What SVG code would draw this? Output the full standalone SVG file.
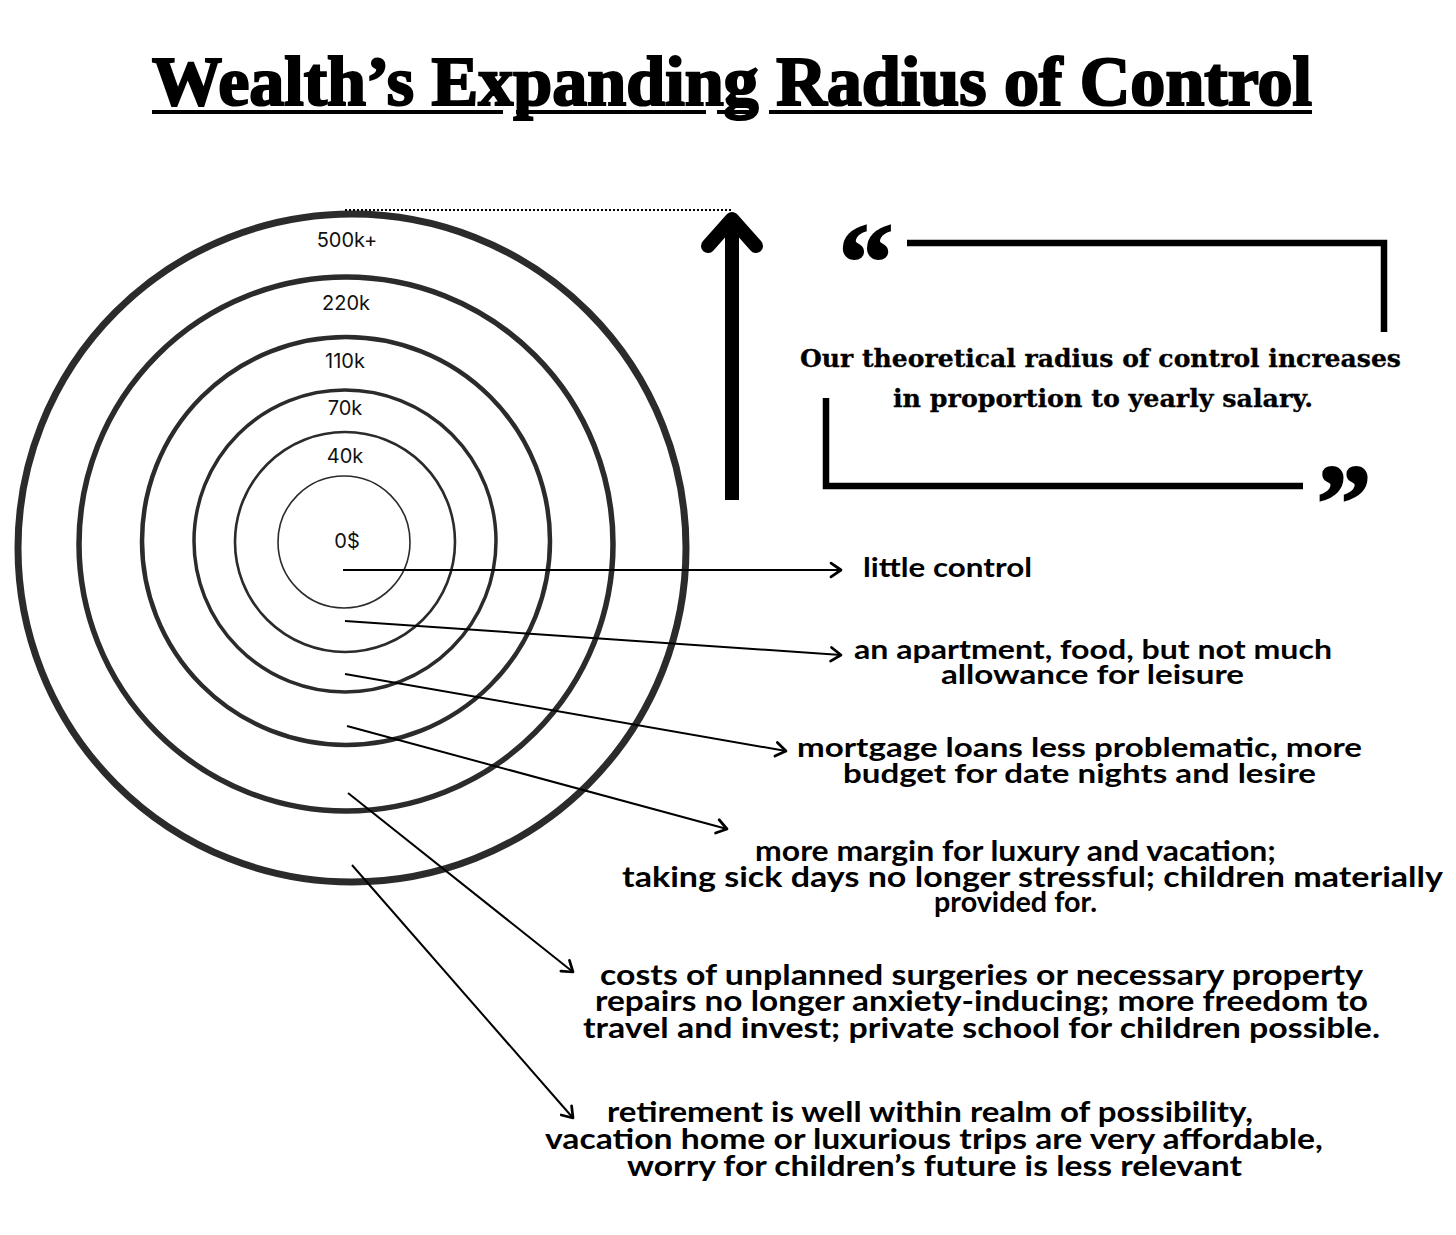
<svg xmlns="http://www.w3.org/2000/svg" width="1456" height="1235" viewBox="0 0 1456 1235">
  <style>
    .title { font-family: "Liberation Serif", "Times New Roman", serif; font-weight: bold; font-size: 70px; fill: #000; stroke: #000; stroke-width: 2.2; }
    .ring { fill: none; stroke: #2b2b2b; }
    .rlabel { font-family: "Inter", "Noto Sans", sans-serif; font-size: 20px; fill: #111; text-anchor: middle; }
    .quote { font-family: "DejaVu Serif", "Liberation Serif", serif; font-weight: bold; font-size: 24px; fill: #000; stroke: #000; stroke-width: 0.3; }
    .qmark { font-family: "Liberation Serif", serif; font-weight: bold; font-size: 110px; fill: #000; stroke: #000; stroke-width: 2; text-anchor: middle; }
    .bar { stroke: #000; stroke-width: 6.5; fill: none; }
    .lbl { font-family: "Lato", "Noto Sans", sans-serif; font-weight: bold; font-size: 27px; fill: #000; }
    .lbl2 { font-family: "Lato", "Noto Sans", sans-serif; font-weight: bold; font-size: 28px; fill: #000; }
    .conn { stroke: #000; stroke-width: 2; fill: none; marker-end: url(#arr); }
  </style>
  <defs>
    <marker id="arr" markerUnits="userSpaceOnUse" markerWidth="20" markerHeight="20" viewBox="-12 -8 14 16" refX="0" refY="0" orient="auto">
      <path d="M-8,-5.5 L0,0 L-8,5.5" fill="none" stroke="#000" stroke-width="2.2" stroke-linecap="round" stroke-linejoin="round"/>
    </marker>
  </defs>
  <rect width="1456" height="1235" fill="#fff"/>

  <g id="title">
    <text class="title" x="152" y="105" textLength="1160" lengthAdjust="spacingAndGlyphs">Wealth’s Expanding Radius of Control</text>
    <g stroke="#000" stroke-width="4">
      <line x1="152" y1="112" x2="503" y2="112"/>
      <line x1="516" y1="112" x2="706" y2="112"/>
      <line x1="717" y1="112" x2="757" y2="112"/>
      <line x1="769" y1="112" x2="1312" y2="112"/>
    </g>
  </g>

  <g id="rings">
    <g id="ring-500k">
      <circle class="ring" cx="352" cy="548" r="334" stroke-width="7"/>
      <text class="rlabel" x="347" y="247">500k+</text>
    </g>
    <g id="ring-220k">
      <circle class="ring" cx="346" cy="544" r="267" stroke-width="5.5"/>
      <text class="rlabel" x="346" y="310">220k</text>
    </g>
    <g id="ring-110k">
      <circle class="ring" cx="346" cy="541" r="204" stroke-width="4.5"/>
      <text class="rlabel" x="345" y="368">110k</text>
    </g>
    <g id="ring-70k">
      <circle class="ring" cx="345" cy="541" r="151" stroke-width="3.5"/>
      <text class="rlabel" x="345" y="415">70k</text>
    </g>
    <g id="ring-40k">
      <circle class="ring" cx="345" cy="542" r="110" stroke-width="2.6"/>
      <text class="rlabel" x="345" y="463">40k</text>
    </g>
    <g id="ring-0">
      <circle class="ring" cx="344" cy="542" r="66" stroke-width="1.6" stroke="#111"/>
      <text class="rlabel" x="347" y="548">0$</text>
    </g>
  </g>

  <g id="growth-arrow">
    <line x1="345" y1="210" x2="732" y2="210" stroke="#000" stroke-width="2" stroke-dasharray="2 2"/>
    <line x1="732" y1="500" x2="732" y2="222" stroke="#000" stroke-width="14"/>
    <polyline points="708,246 732,219 756,246" fill="none" stroke="#000" stroke-width="14" stroke-linecap="round" stroke-linejoin="round"/>
  </g>

  <g id="quote">
    <text class="qmark" x="866" y="299">“</text>
    <polyline class="bar" points="907,243 1384,243 1384,332"/>
    <text class="quote" x="800" y="367" textLength="601" lengthAdjust="spacingAndGlyphs">Our theoretical radius of control increases</text>
    <text class="quote" x="893" y="407" textLength="420" lengthAdjust="spacingAndGlyphs">in proportion to yearly salary.</text>
    <polyline class="bar" points="826,398 826,486 1303,486"/>
    <text class="qmark" x="1344" y="540">”</text>
  </g>

  <g id="connectors">
    <line class="conn" x1="343" y1="570" x2="841" y2="570"/>
    <line class="conn" x1="345" y1="621" x2="841" y2="655"/>
    <line class="conn" x1="345" y1="674" x2="786" y2="751"/>
    <line class="conn" x1="347" y1="726" x2="727" y2="829"/>
    <line class="conn" x1="348" y1="793" x2="573" y2="972"/>
    <line class="conn" x1="352" y1="865" x2="573" y2="1118"/>
  </g>

  <g id="label-0">
    <text class="lbl" x="863" y="577" textLength="169" lengthAdjust="spacingAndGlyphs">little control</text>
  </g>
  <g id="label-40k">
    <text class="lbl" x="854" y="659" textLength="478" lengthAdjust="spacingAndGlyphs">an apartment, food, but not much</text>
    <text class="lbl" x="941" y="684" textLength="303" lengthAdjust="spacingAndGlyphs">allowance for leisure</text>
  </g>
  <g id="label-70k">
    <text class="lbl" x="797" y="757" textLength="565" lengthAdjust="spacingAndGlyphs">mortgage loans less problematic, more</text>
    <text class="lbl" x="843" y="783" textLength="473" lengthAdjust="spacingAndGlyphs">budget for date nights and lesire</text>
  </g>
  <g id="label-110k">
    <text class="lbl2" x="755" y="861" textLength="521" lengthAdjust="spacingAndGlyphs">more margin for luxury and vacation;</text>
    <text class="lbl2" x="622" y="887" textLength="821" lengthAdjust="spacingAndGlyphs">taking sick days no longer stressful; children materially</text>
    <text class="lbl2" x="934" y="912" textLength="163" lengthAdjust="spacingAndGlyphs">provided for.</text>
  </g>
  <g id="label-220k">
    <text class="lbl2" x="600" y="985" textLength="763" lengthAdjust="spacingAndGlyphs">costs of unplanned surgeries or necessary property</text>
    <text class="lbl2" x="595" y="1011" textLength="773" lengthAdjust="spacingAndGlyphs">repairs no longer anxiety-inducing; more freedom to</text>
    <text class="lbl2" x="583" y="1038" textLength="797" lengthAdjust="spacingAndGlyphs">travel and invest; private school for children possible.</text>
  </g>
  <g id="label-500k">
    <text class="lbl2" x="607" y="1122" textLength="646" lengthAdjust="spacingAndGlyphs">retirement is well within realm of possibility,</text>
    <text class="lbl2" x="545" y="1149" textLength="778" lengthAdjust="spacingAndGlyphs">vacation home or luxurious trips are very affordable,</text>
    <text class="lbl2" x="627" y="1176" textLength="615" lengthAdjust="spacingAndGlyphs">worry for children’s future is less relevant</text>
  </g>
</svg>
